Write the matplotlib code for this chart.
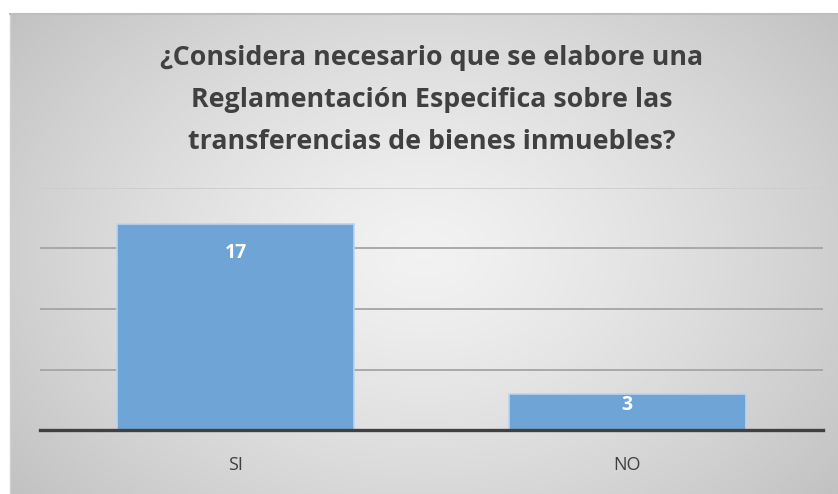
import numpy as np
import matplotlib
matplotlib.use("Agg")
import matplotlib.pyplot as plt

categories = ["SI", "NO"]
values = [17, 3]
title = "¿Considera necesario que se elabore una\nReglamentación Especifica sobre las\ntransferencias de bienes inmuebles?"

W, H = 838, 494
fig = plt.figure(figsize=(W / 100, H / 100), dpi=100)
fig.patch.set_facecolor("white")

# gradient background of chart area
bg = fig.add_axes([10 / W, 0, 828 / W, (H - 14) / H])
yy, xx = np.mgrid[-1:1:200j, -1:1:300j]
r = np.sqrt((xx * 1.0) ** 2 + (yy * 0.8) ** 2) / np.sqrt(1.64)
shade = 0.95 - 0.19 * r ** 1.3
bg.imshow(np.dstack([shade] * 3), aspect="auto", extent=[0, 1, 0, 1], origin="lower")
bg.set_xlim(0, 1)
bg.set_ylim(0, 1)
bg.set_xticks([])
bg.set_yticks([])
for s in bg.spines.values():
    s.set_visible(False)
bg.spines["top"].set_visible(True)
bg.spines["top"].set_color("#bdbdbd")
bg.spines["top"].set_linewidth(1.5)
bg.spines["left"].set_visible(True)
bg.spines["left"].set_color("#d0d0d0")
bg.spines["left"].set_linewidth(1)

ax = fig.add_axes([40 / W, (H - 430) / H, (823 - 40) / W, (430 - 188) / H])
ax.patch.set_alpha(0)
x = np.arange(len(categories))
bars = ax.bar(x, values, width=0.605, color="#6fa4d7", edgecolor="#bcd3ec", linewidth=1.2, zorder=3)
ax.set_xlim(-0.5, len(categories) - 0.5)
ax.set_ylim(0, 20)
ax.set_yticks([5, 10, 15, 20])
ax.yaxis.grid(True, color="#a4a4a4", linewidth=1.3, zorder=0)
ax.tick_params(axis="y", left=False, labelleft=False)
ax.set_xticks(x)
ax.set_xticklabels(categories, fontsize=13, color="#404040", family="Open Sans")
ax.tick_params(axis="x", length=0, pad=19)
for s in ["top", "right", "left"]:
    ax.spines[s].set_visible(False)
ax.spines["bottom"].set_color("#404040")
ax.spines["bottom"].set_linewidth(2.4)
ax.spines["bottom"].set_zorder(4)
fig.canvas.draw()
ax.get_ygridlines()[-1].set_color("#cdcdcd")

for b, v in zip(bars, values):
    off = -21 if v > 5 else -8
    ax.annotate(str(v), (b.get_x() + b.get_width() / 2, v), xytext=(0, off),
                textcoords="offset points", ha="center", va="center",
                color="white", fontsize=14, fontweight="bold", family="Open Sans", zorder=5)

fig.text(432 / W, 1 - 100 / H, title, ha="center", va="center", fontsize=19.3,
         fontweight="bold", color="#404040", family="Open Sans", linespacing=1.82)

fig.savefig("out.png", dpi=100)
